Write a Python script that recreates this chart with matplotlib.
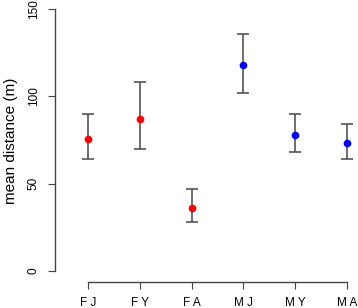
import matplotlib.pyplot as plt

groups = ['F J', 'F Y', 'F A', 'M J', 'M Y', 'M A']
means = [75.6, 87.0, 36.0, 118.0, 78.0, 73.3]
upper = [90.0, 108.0, 47.0, 136.0, 90.0, 84.0]
lower = [64.0, 70.0, 28.0, 102.0, 68.0, 64.0]
colors = ['red', 'red', 'red', 'blue', 'blue', 'blue']

plt.rcParams['font.family'] = ['Liberation Sans', 'DejaVu Sans']

fig = plt.figure(figsize=(3.58, 3.08), dpi=100)
ax = fig.add_axes([55/358, 26/308, 303/358, 282/308])

x = list(range(1, len(groups) + 1))
for xi, m, lo, hi, c in zip(x, means, lower, upper, colors):
    ax.errorbar(xi, m, yerr=[[m - lo], [hi - m]], fmt='none', ecolor='#555555',
                elinewidth=1.2, capsize=4, capthick=1.2)
    ax.plot(xi, m, 'o', color=c, markersize=4.5, zorder=3)

ax.set_xlim(0.363, 6.21)
ax.set_ylim(-6.3, 155.2)

for s in ['top', 'right']:
    ax.spines[s].set_visible(False)
ax.spines['left'].set_bounds(0, 150)
ax.spines['bottom'].set_bounds(1, 6)
for s in ['left', 'bottom']:
    ax.spines[s].set_color('#444444')
    ax.spines[s].set_linewidth(1)

ax.set_xticks(x)
ax.set_xticklabels(groups, fontsize=8.5)
ax.set_yticks([0, 50, 100, 150])
ax.set_yticklabels(['0', '50', '100', '150'], fontsize=8.5, rotation=90, va='center')
ax.tick_params(length=5, color='#444444')
ax.tick_params(axis='x', pad=5.5)
ax.tick_params(axis='y', pad=6)
ax.set_ylabel('mean distance (m)', fontsize=11, labelpad=7)

fig.savefig('out.png', dpi=100)
